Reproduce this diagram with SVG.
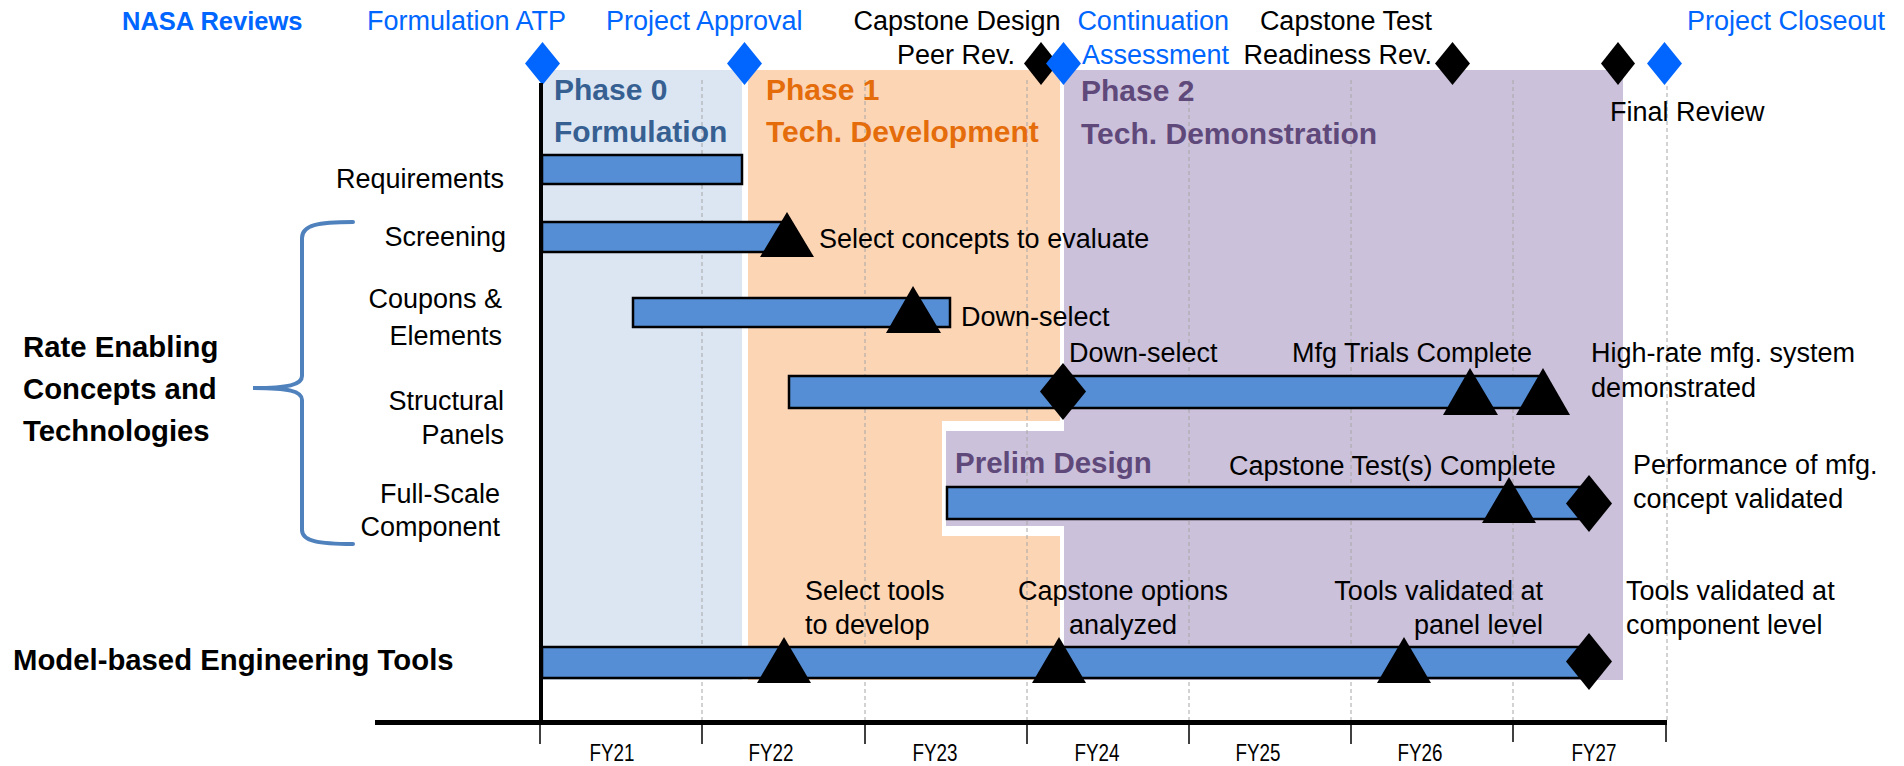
<svg xmlns="http://www.w3.org/2000/svg" width="1904" height="766" viewBox="0 0 1904 766">
<style>
text{font-family:"Liberation Sans",Arial,sans-serif;font-size:27px;fill:#000}
.b{font-weight:bold}
.blue{fill:#0066FF}
.nasa{font-weight:bold;font-size:25.5px;fill:#0066FF}
.ph{font-weight:bold;font-size:30px}
.lb{font-weight:bold;font-size:29.3px}
.fy{font-size:24px;text-anchor:middle}
.bar{fill:#558ED5;stroke:#000;stroke-width:2.5}
.tri{fill:#000}
.grid{stroke:#A6A6A6;stroke-width:1;stroke-dasharray:4,3;fill:none}
.tick{stroke:#000;stroke-width:1.5}
.end{text-anchor:end}
.mid{text-anchor:middle}
</style>
<rect width="1904" height="766" fill="#fff"/>
<g id="phases">
<rect x="542" y="70" width="200" height="610" fill="#DCE6F2"/>
<rect x="748" y="70" width="312" height="610" fill="#FCD5B5"/>
<rect x="1064" y="70" width="559" height="610" fill="#CCC1DA"/>
<rect x="942" y="421" width="122" height="115" fill="#fff"/>
<rect x="946" y="431" width="122" height="95" fill="#CCC1DA"/>
</g>
<g id="axes">
<line class="grid" x1="702" y1="80" x2="702" y2="722"/>
<line class="grid" x1="865" y1="80" x2="865" y2="722"/>
<line class="grid" x1="1027" y1="80" x2="1027" y2="722"/>
<line class="grid" x1="1189" y1="80" x2="1189" y2="722"/>
<line class="grid" x1="1351" y1="80" x2="1351" y2="722"/>
<line class="grid" x1="1513" y1="80" x2="1513" y2="722"/>
<line class="grid" x1="1667" y1="86" x2="1667" y2="722"/>
<line x1="375" y1="722.5" x2="1667" y2="722.5" stroke="#000" stroke-width="5"/>
<line class="tick" x1="540" y1="722" x2="540" y2="744"/>
<line class="tick" x1="702" y1="722" x2="702" y2="744"/>
<line class="tick" x1="865" y1="722" x2="865" y2="744"/>
<line class="tick" x1="1027" y1="722" x2="1027" y2="744"/>
<line class="tick" x1="1189" y1="722" x2="1189" y2="744"/>
<line class="tick" x1="1351" y1="722" x2="1351" y2="744"/>
<line class="tick" x1="1513" y1="722" x2="1513" y2="742"/>
<line class="tick" x1="1666" y1="722" x2="1666" y2="742"/>
</g>
<g id="fy-labels">
<text class="fy" x="612" y="761" textLength="45" lengthAdjust="spacingAndGlyphs">FY21</text>
<text class="fy" x="771" y="761" textLength="45" lengthAdjust="spacingAndGlyphs">FY22</text>
<text class="fy" x="935" y="761" textLength="45" lengthAdjust="spacingAndGlyphs">FY23</text>
<text class="fy" x="1097" y="761" textLength="45" lengthAdjust="spacingAndGlyphs">FY24</text>
<text class="fy" x="1258" y="761" textLength="45" lengthAdjust="spacingAndGlyphs">FY25</text>
<text class="fy" x="1420" y="761" textLength="45" lengthAdjust="spacingAndGlyphs">FY26</text>
<text class="fy" x="1594" y="761" textLength="45" lengthAdjust="spacingAndGlyphs">FY27</text>
</g>
<g id="phase-labels">
<text class="ph" x="554" y="100" style="fill:#376092">Phase 0</text>
<text class="ph" x="554" y="142" style="fill:#376092">Formulation</text>
<text class="ph" x="766" y="100" style="fill:#E46C0A">Phase 1</text>
<text class="ph" x="766" y="142" style="fill:#E46C0A">Tech. Development</text>
<text class="ph" x="1081" y="101" style="fill:#5F497A">Phase 2</text>
<text class="ph" x="1081" y="144" style="fill:#5F497A">Tech. Demonstration</text>
<text class="ph" x="955" y="473" style="fill:#5F497A;font-size:29.5px">Prelim Design</text>
</g>
<g id="reviews">
<text class="nasa" x="122" y="30">NASA Reviews</text>
<text class="blue" x="367" y="30">Formulation ATP</text>
<text class="blue" x="606" y="30">Project Approval</text>
<text class="mid" x="957" y="30">Capstone Design</text>
<text class="mid" x="956" y="64">Peer Rev.</text>
<text class="blue end" x="1229" y="30">Continuation</text>
<text class="blue end" x="1229" y="64">Assessment</text>
<text class="end" x="1432" y="30">Capstone Test</text>
<text class="end" x="1432" y="64">Readiness Rev.</text>
<text class="blue" x="1687" y="30">Project Closeout</text>
<text x="1610" y="121">Final Review</text>
<polygon points="542.5,42 560,63.5 542.5,85 525,63.5" fill="#0066FF"/>
<polygon points="744.5,42 762,63.5 744.5,85 727,63.5" fill="#0066FF"/>
<polygon points="1041,42 1058,63.5 1041,85 1024,63.5" fill="#000"/>
<polygon points="1063.5,42 1081,63.5 1063.5,85 1046,63.5" fill="#0066FF"/>
<polygon points="1452.5,42 1470,63.5 1452.5,85 1435,63.5" fill="#000"/>
<polygon points="1618,42 1635,63.5 1618,85 1601,63.5" fill="#000"/>
<polygon points="1664.5,42 1682,63.5 1664.5,85 1647,63.5" fill="#0066FF"/>
</g>
<line x1="541" y1="83" x2="541" y2="725" stroke="#000" stroke-width="4"/>
<g id="row-labels">
<text class="end" x="504" y="188">Requirements</text>
<text class="end" x="506" y="246">Screening</text>
<text class="end" x="502" y="308">Coupons &amp;</text>
<text class="end" x="502" y="345">Elements</text>
<text class="end" x="504" y="410">Structural</text>
<text class="end" x="504" y="444">Panels</text>
<text class="end" x="500" y="503">Full-Scale</text>
<text class="end" x="500" y="536">Component</text>
<text class="lb" x="23" y="357">Rate Enabling</text>
<text class="lb" x="23" y="399">Concepts and</text>
<text class="lb" x="23" y="441">Technologies</text>
<text class="lb" x="13" y="670">Model-based Engineering Tools</text>
</g>
<g id="connectors">
<path d="M353,222 C318,222 302,225 302,238 L302,376 C302,385 288,388 253,388 C288,388 302,391 302,400 L302,530 C302,541 318,544 353,544" fill="none" stroke="#4F81BD" stroke-width="4" stroke-linecap="round"/>
</g>
<g id="requirements">
<rect class="bar" x="542" y="155" width="200" height="29"/>
</g>
<g id="screening">
<rect class="bar" x="542" y="222" width="245" height="30"/>
<polygon class="tri" points="787,212 814,257 760,257"/>
<text x="819" y="248">Select concepts to evaluate</text>
</g>
<g id="coupons">
<rect class="bar" x="633" y="298" width="317" height="29"/>
<polygon class="tri" points="913,286 941,333 886,333"/>
<text x="961" y="326">Down-select</text>
</g>
<g id="structural-panels">
<rect class="bar" x="789" y="376" width="751" height="32"/>
<polygon points="1063,363 1086,391.5 1063,420 1040,391.5" fill="#000"/>
<polygon class="tri" points="1470,368 1498,415 1443,415"/>
<polygon class="tri" points="1543,368 1570,415 1516,415"/>
<text x="1069" y="362">Down-select</text>
<text x="1292" y="362">Mfg Trials Complete</text>
<text x="1591" y="362">High-rate mfg. system</text>
<text x="1591" y="397">demonstrated</text>
</g>
<g id="full-scale">
<rect class="bar" x="947" y="487" width="633" height="32"/>
<polygon class="tri" points="1509,477 1536,523 1482,523"/>
<polygon points="1589,475 1612,503.5 1589,532 1566,503.5" fill="#000"/>
<text x="1229" y="475">Capstone Test(s) Complete</text>
<text x="1633" y="474">Performance of mfg.</text>
<text x="1633" y="508">concept validated</text>
</g>
<g id="mbe-tools">
<rect class="bar" x="542" y="647" width="1038" height="31"/>
<polygon class="tri" points="784,637 811,683 757,683"/>
<polygon class="tri" points="1059,637 1086,683 1032,683"/>
<polygon class="tri" points="1404,637 1431,683 1377,683"/>
<polygon points="1589,633 1612,661.5 1589,690 1566,661.5" fill="#000"/>
<text x="805" y="600">Select tools</text>
<text x="805" y="634">to develop</text>
<text class="mid" x="1123" y="600">Capstone options</text>
<text class="mid" x="1123" y="634">analyzed</text>
<text class="end" x="1543" y="600">Tools validated at</text>
<text class="end" x="1543" y="634">panel level</text>
<text x="1626" y="600">Tools validated at</text>
<text x="1626" y="634">component level</text>
</g>
</svg>
